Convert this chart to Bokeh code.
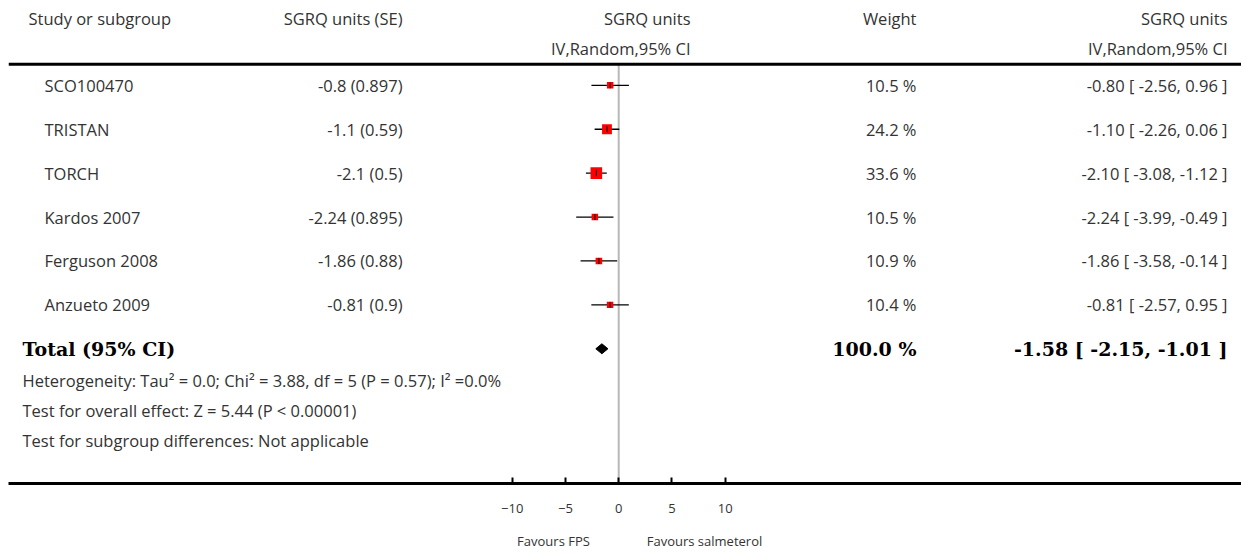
from bokeh.plotting import figure
from bokeh.models import Range1d, LinearAxis, FixedTicker, ColumnDataSource, Span
from bokeh.core.properties import value
from bokeh.embed import file_html
from bokeh.resources import INLINE

# ---- data ----
studies = ["SCO100470", "TRISTAN", "TORCH", "Kardos 2007", "Ferguson 2008", "Anzueto 2009"]
est = [-0.8, -1.1, -2.1, -2.24, -1.86, -0.81]
se = [0.897, 0.59, 0.5, 0.895, 0.88, 0.9]
ci_lo = [-2.56, -2.26, -3.08, -3.99, -3.58, -2.57]
ci_hi = [0.96, 0.06, -1.12, -0.49, -0.14, 0.95]
weights = [10.5, 24.2, 33.6, 10.5, 10.9, 10.4]
total_est, total_lo, total_hi, total_weight = -1.58, -2.15, -1.01, 100.0
axis_ticks = [-10, -5, 0, 5, 10]
footnotes = [
    "Heterogeneity: Tau\u00b2 = 0.0; Chi\u00b2 = 3.88, df = 5 (P = 0.57); I\u00b2 =0.0%",
    "Test for overall effect: Z = 5.44 (P < 0.00001)",
    "Test for subgroup differences: Not applicable",
]
favours = ["Favours FPS", "Favours salmeterol"]

# ---- layout ----
W, H = 1241, 552
AX_Y = 484
LEFT = 8
PX_PER_UNIT = 10.65
ZERO_PX = 618.2
FONT = "Open Sans"
FS = "16.5px"
SERIF = "DejaVu Serif"
TXT = "#333333"

row0, row_step = 85, 44
rows = [row0 + row_step * i for i in range(len(studies))]
total_row = row0 + row_step * len(studies)

p = figure(width=W, height=H, output_backend="svg", toolbar_location=None,
           x_range=Range1d((LEFT - ZERO_PX) / PX_PER_UNIT, (W - ZERO_PX) / PX_PER_UNIT),
           y_range=Range1d(AX_Y, 0),
           min_border_left=LEFT, min_border_right=0, min_border_top=0,
           min_border_bottom=H - AX_Y, x_axis_type=None, y_axis_type=None)
p.outline_line_color = None
p.background_fill_color = "white"
p.border_fill_color = "white"
p.extra_x_ranges = {"px": Range1d(LEFT, W)}

# header rule and null line
p.add_layout(Span(location=64, dimension="width", line_color="black", line_width=3))
p.segment(x0=[0], y0=[64], x1=[0], y1=[AX_Y], line_color="#b8b8b8", line_width=2)

# CIs
src = ColumnDataSource(dict(
    y=rows, est=est, lo=ci_lo, hi=ci_hi,
    size=[2.0 * w ** 0.5 for w in weights],
    ytop=[r - 3 for r in rows], ybot=[r + 3 for r in rows],
))
p.segment(x0="lo", y0="y", x1="hi", y1="y", source=src, line_color="black", line_width=1.3)
p.scatter(x="est", y="y", size="size", marker="square", source=src,
          fill_color="#ff0000", line_color=None)
p.segment(x0="est", y0="ytop", x1="est", y1="ybot", source=src, line_color="black", line_width=1)

# total diamond
p.patch(x=[total_lo, total_est, total_hi, total_est],
        y=[total_row, total_row - 5, total_row, total_row + 5],
        fill_color="black", line_color="black", line_width=1)

# axis
ax = LinearAxis(ticker=FixedTicker(ticks=axis_ticks), axis_line_width=3, axis_line_color="black",
                major_tick_in=6, major_tick_out=0, major_tick_line_width=2,
                major_tick_line_color="black", minor_tick_line_color=None,
                major_label_standoff=20, major_label_text_font=FONT,
                major_label_text_font_size="13px", major_label_text_color=TXT)
p.add_layout(ax, "below")

# favours labels as a second (line-less) axis on the pixel range
fav_pos = [553, 704]
overrides = {}
for xp, s in zip(fav_pos, favours):
    overrides[xp] = s
fav_ax = LinearAxis(x_range_name="px", ticker=FixedTicker(ticks=fav_pos),
                    major_label_overrides=overrides, axis_line_color=None,
                    major_tick_line_color=None, minor_tick_line_color=None,
                    major_tick_in=0, major_tick_out=0, major_label_standoff=16,
                    major_label_text_font=FONT, major_label_text_font_size="13px",
                    major_label_text_color=TXT)
p.add_layout(fav_ax, "below")


def txt(x, y, s, align="left", size=FS, font=FONT, bold=False):
    p.text(x=[x], y=[y], text=[s], x_range_name="px", text_align=align,
           text_baseline="middle", text_font=value(font), text_font_size=size,
           text_color=TXT if not bold else "black",
           text_font_style="bold" if bold else "normal")


# header
txt(28, 18, "Study or subgroup")
txt(402, 18, "SGRQ units (SE)", "right")
txt(690, 18, "SGRQ units", "right")
txt(690, 48, "IV,Random,95% CI", "right")
txt(916, 18, "Weight", "right")
txt(1227, 18, "SGRQ units", "right")
txt(1227, 48, "IV,Random,95% CI", "right")

# study rows
for i, r in enumerate(rows):
    txt(44, r, studies[i])
    txt(402, r, f"{est[i]} ({se[i]})", "right")
    txt(916, r, f"{weights[i]:.1f} %", "right")
    txt(1227, r, f"{est[i]:.2f} [ {ci_lo[i]:.2f}, {ci_hi[i]:.2f} ]", "right")

# total
txt(22, total_row, "Total (95% CI)", size="19px", font=SERIF, bold=True)
txt(916, total_row, f"{total_weight:.1f} %", "right", size="19px", font=SERIF, bold=True)
txt(1227, total_row, f"{total_est:.2f} [ {total_lo:.2f}, {total_hi:.2f} ]", "right",
    size="19px", font=SERIF, bold=True)

for k, s in enumerate(footnotes):
    txt(22, total_row + 32 + 30 * k, s)

open("out.html", "w").write(file_html(p, INLINE))
